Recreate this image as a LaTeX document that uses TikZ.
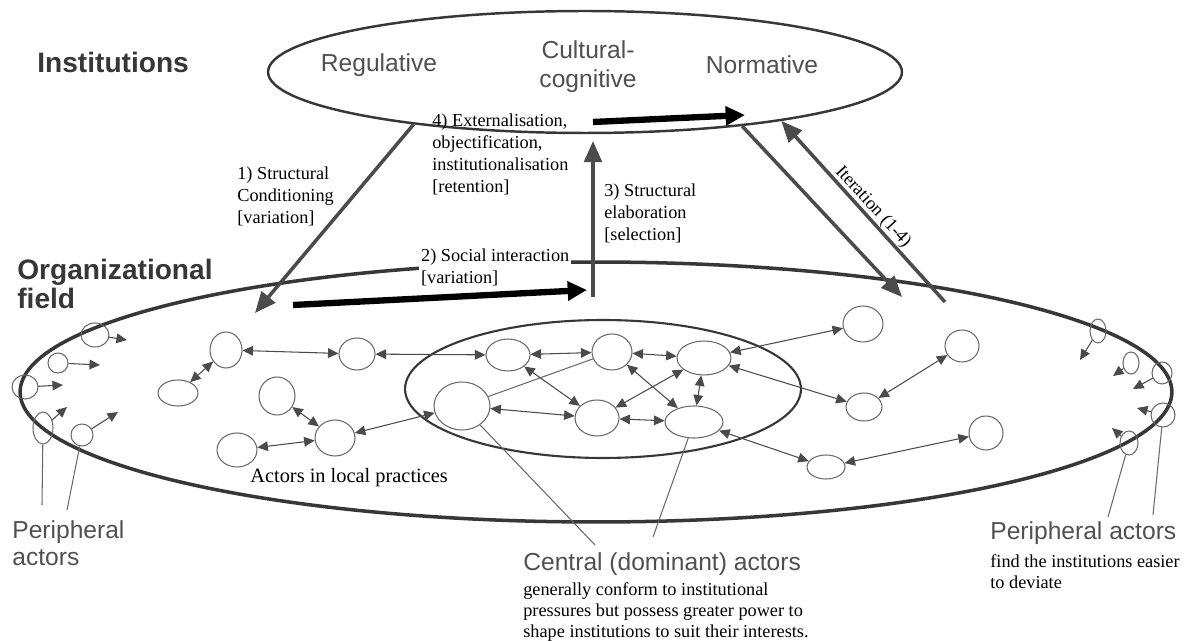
\documentclass[tikz,border=0pt]{standalone}
\usepackage{fontspec}
\setmainfont{Liberation Serif}
\setsansfont{Liberation Sans}
\definecolor{rimgray}{RGB}{55, 55, 55}
\definecolor{actgray}{RGB}{105, 105, 105}
\definecolor{flowgray}{RGB}{75, 75, 75}
\definecolor{labgray}{RGB}{80, 80, 80}
\usetikzlibrary{arrows.meta, shapes.geometric}
\tikzset{
  rim/.style={ellipse, draw=rimgray, inner sep=0pt},
  actor/.style={ellipse, draw=actgray, line width=0.6pt, inner sep=0pt},
  link/.style={{Triangle[length=6pt,width=5.5pt]}-{Triangle[length=6pt,width=5.5pt]}, flowgray, line width=0.6pt},
  push/.style={-{Triangle[length=6pt,width=5.5pt]}, flowgray, line width=0.6pt},
  pointer/.style={actgray, line width=0.6pt},
  flow/.style={-{Triangle[length=12pt,width=10pt]}, flowgray, line width=2pt},
  bigflow/.style={-{Triangle[length=11pt,width=10.5pt]}, black, line width=3.6pt},
  headtxt/.style={font=\sffamily\bfseries\fontsize{16}{16}\selectfont, text=rimgray, align=left, inner sep=0pt},
  pillartxt/.style={font=\sffamily\fontsize{14}{16.4}\selectfont, text=labgray, align=center, inner sep=0pt},
  captxt/.style={font=\sffamily\fontsize{14}{15.3}\selectfont, text=labgray, align=left, inner sep=0pt},
  steptxt/.style={font=\fontsize{10.4}{12.5}\selectfont, align=left, inner sep=0pt},
  notetxt/.style={font=\fontsize{10.4}{12}\selectfont, align=left, inner sep=0pt},
}
\begin{document}
\begin{tikzpicture}[x=0.02cm, y=-0.02cm]
  \useasboundingbox (0,0) rectangle (1189,641);
  % the two levels
  \node[rim, line width=1.4pt, minimum width=12.68cm, minimum height=2.44cm] (inst) at (585,72) {};
  \node[rim, line width=2pt, minimum width=23.04cm, minimum height=5.2cm] (field) at (596,392) {};
  \node[rim, line width=1.2pt, minimum width=7.92cm, minimum height=2.76cm] (core) at (603,389) {};
  \node[headtxt, anchor=west] (insttxt) at (37,62) {Institutions};
  \node[headtxt, anchor=west] (fieldtxt) at (17,284) {Organizational\\field};
  \node[pillartxt] (reg) at (379,65) {Regulative};
  \node[pillartxt] (cult) at (588,67) {Cultural-\\cognitive};
  \node[pillartxt] (norm) at (762,65) {Normative};

  % actors: name/x/y/rx/ry
  \foreach \nm/\px/\py/\rx/\ry in {p1/95/335/14/12, p2/58/363/10/10, p3/25/387/13/12, p4/43/428/10/16, p5/82/435/11/11,
    a1/226/350/16/18, a2/178/393/20/13, a3/357/354/18/16, a4/277/396/18/19, a5/335/438/20/18, a6/237/450/20/17,
    n1/508/355/22/16, n2/612/352/20/18, n3/704/358/27/17, c1/462/406/28/24, n4/597/418/22/18, c2/694/422/29/16,
    r1/863/324/20/18, r2/864/407/18/14, r3/826/467/19/12, r4/986/433/17/17, r5/962/346/17/16,
    q1/1098/331/8/12, q2/1131/363/8/11, q3/1162/373/10/11, q4/1163/415/12/12, q5/1129/443/9/12}
    \node[actor, minimum width=\rx*0.04cm, minimum height=\ry*0.04cm] (\nm) at (\px,\py) {};
  \foreach \a/\b in {a1/a2, a1/a3, a4/a5, a6/a5, a3/n1, a5/c1, n1/n2, n2/n3, n1/n4, n2/c2, n3/n4, n3/c2,
    c1/n4, n4/c2, r1/n3, r2/n3, r3/c2, r3/r4, r2/r5}
    \draw[link] (\a) -- (\b);
  \draw[pointer] (c1) -- (n2);
  \foreach \nm/\px/\py in {p1/127/340, p2/100/365, p3/63/385, p4/67/407, p5/118/412,
    q1/1080/360, q2/1113/376, q3/1133/389, q4/1137/408, q5/1112/428} {
    \coordinate (\nm-end) at (\px,\py);
    \draw[push] (\nm) -- (\nm-end);
  }

  % step labels
  \node[steptxt, anchor=west] (lab4) at (432,154) {4) Externalisation,\\objectification,\\institutionalisation\\{[retention]}};
  \node[steptxt, anchor=west] (lab1) at (237,196) {1) Structural\\Conditioning\\{[variation]}};
  \node[steptxt, anchor=west, fill=white, inner sep=1pt] (lab2) at (419,267) {2) Social interaction\\{[variation]}};
  \node[steptxt, anchor=west] (lab3) at (604,213) {3) Structural\\elaboration\\{[selection]}};
  \node[steptxt, rotate=-47.5] (iter) at (873,207) {Iteration (1-4)};

  % flows between levels
  \coordinate (t1) at (255,313);
  \coordinate (s2) at (293,305); \coordinate (t2) at (587,290);
  \coordinate (s3) at (593,297); \coordinate (t3) at (593,141);
  \coordinate (s4) at (593,122); \coordinate (t4) at (745,115);
  \coordinate (t5) at (902,297); \coordinate (s6) at (945,302);
  \draw[flow] (inst.197) -- (t1);
  \draw[bigflow] (s2) -- (t2);
  \draw[flow] (s3) -- (t3);
  \draw[bigflow] (s4) -- (t4);
  \draw[flow] (inst.341) -- (t5);
  \draw[flow] (s6) -- (inst.346);

  % captions
  \node[notetxt, anchor=west, font=\fontsize{11.6}{13}\selectfont] (local) at (250,478) {Actors in local practices};
  \node[captxt, anchor=west] (perl) at (12,543) {Peripheral\\actors};
  \node[captxt, anchor=west] (cent) at (523,564) {Central (dominant) actors};
  \node[notetxt, anchor=west] (centnote) at (523,612) {generally conform to institutional\\pressures but possess greater power to\\shape institutions to suit their interests.};
  \node[captxt, anchor=west] (perr) at (990,533) {Peripheral actors};
  \node[notetxt, anchor=west] (perrnote) at (990,572) {find the institutions easier\\to deviate};
  \coordinate (cl1) at (595,545); \coordinate (cl2) at (653,537);
  \coordinate (pl1) at (42,505); \coordinate (pl2) at (67,510);
  \coordinate (pr1) at (1108,517); \coordinate (pr2) at (1153,515);
  \draw[pointer] (c1) -- (cl1); \draw[pointer] (c2) -- (cl2);
  \draw[pointer] (p4) -- (pl1); \draw[pointer] (p5) -- (pl2);
  \draw[pointer] (q5) -- (pr1); \draw[pointer] (q4) -- (pr2);
\end{tikzpicture}
\end{document}
